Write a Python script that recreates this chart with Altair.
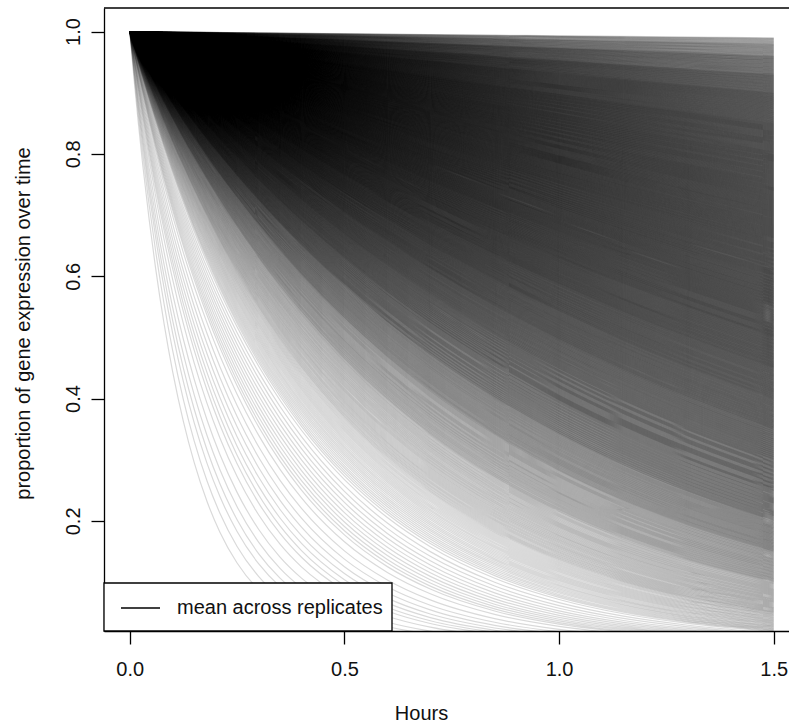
import math
import altair as alt
import pandas as pd

# Proportion of expression remaining at 1.5 h: bin edges (descending) and number of curves per bin
end_edges = [0.99, 0.98, 0.96, 0.93, 0.90, 0.85, 0.80, 0.75, 0.70, 0.65, 0.60, 0.55,
             0.50, 0.45, 0.40, 0.35, 0.30, 0.25, 0.20, 0.15, 0.10, 0.05, 0.02]
end_counts = [15, 39, 77, 92, 169, 180, 184, 184, 183, 180, 177, 172,
              166, 157, 148, 138, 130, 120, 100, 80, 62, 30]
# Fast-decaying curves that leave the frame before 1.5 h: decay-rate bin edges (per hour) and counts
fast_rate_edges = [2.6, 3.5, 5.0, 7.0, 8.5]
fast_counts = [12, 8, 5, 2]
# Time points (hours) at which each curve is evaluated
hours = [0, 0.01, 0.02, 0.03, 0.045, 0.06, 0.08, 0.1, 0.125, 0.15, 0.18, 0.21,
         0.25, 0.3, 0.35, 0.4, 0.5, 0.6, 0.7, 0.85, 1.0, 1.15, 1.3, 1.5]
x_ticks = [0.0, 0.5, 1.0, 1.5]
y_ticks = [0.2, 0.4, 0.6, 0.8, 1.0]
T_END = 1.5

rates = []
for i, n in enumerate(end_counts):
    hi, lo = end_edges[i], end_edges[i + 1]
    for j in range(n):
        v = hi - (j + 0.5) / n * (hi - lo)
        rates.append(-math.log(v) / T_END)
for i, n in enumerate(fast_counts):
    lo, hi = fast_rate_edges[i], fast_rate_edges[i + 1]
    for j in range(n):
        rates.append(lo + (j + 0.5) / n * (hi - lo))

curves = pd.DataFrame({"id": list(range(len(rates))), "k": rates})
t_expr = "[" + ",".join(str(t) for t in hours) + "]"

W, H = 685, 623
FONT = "Liberation Sans"

xscale = alt.Scale(domain=[-0.06, 1.5355], nice=False, zero=False)
yscale = alt.Scale(domain=[0.02, 1.0385], nice=False, zero=False)

lines = (
    alt.Chart(curves)
    .transform_calculate(t=t_expr)
    .transform_flatten(["t"])
    .transform_calculate(p="exp(-datum.k * datum.t)")
    .mark_line(color="black", strokeWidth=1.2, opacity=0.15, clip=True,
               interpolate="monotone")
    .encode(
        x=alt.X("t:Q", scale=xscale,
                axis=alt.Axis(values=x_ticks, format=".1f", title="Hours",
                              tickSize=13, labelPadding=15, labelFlush=False,
                              titleX=317, titleY=82, titleBaseline="middle",
                              titleAlign="center")),
        y=alt.Y("p:Q", scale=yscale,
                axis=alt.Axis(values=y_ticks, format=".1f",
                              title="proportion of gene expression over time",
                              tickSize=13, labelPadding=12, labelAngle=270,
                              labelAlign="center", labelBaseline="alphabetic",
                              titleX=-81, titleY=315, titleAngle=270,
                              titleAlign="center", titleBaseline="middle")),
        detail="id:N",
    )
)

top_rule = alt.Chart(pd.DataFrame({"a": [0]})).mark_rule(
    color="black", strokeWidth=1.3
).encode(x=alt.value(0), x2=alt.value(W), y=alt.value(0))

legend_df = pd.DataFrame({"label": ["mean across replicates"]})
legend_box = alt.Chart(legend_df).mark_rect(
    fill="white", stroke="black", strokeWidth=1.3
).encode(x=alt.value(0), x2=alt.value(288), y=alt.value(575), y2=alt.value(H))
legend_line = alt.Chart(legend_df).mark_rule(
    color="black", strokeWidth=1.3
).encode(x=alt.value(17), x2=alt.value(56), y=alt.value(600))
legend_text = alt.Chart(legend_df).mark_text(
    align="left", baseline="middle", font=FONT, fontSize=20, color="#111"
).encode(x=alt.value(73), y=alt.value(600), text="label:N")

chart = (
    alt.layer(lines, top_rule, legend_box, legend_line, legend_text)
    .properties(width=W, height=H,
                autosize=alt.AutoSizeParams(type="none"),
                padding={"left": 104, "top": 8, "right": 0, "bottom": 95},
                background="white")
    .configure_view(stroke=None)
    .configure_axis(
        grid=False, domainColor="black", tickColor="black", domainWidth=1.3,
        tickWidth=1.3, labelFont=FONT, labelFontSize=20, labelColor="#111",
        titleFont=FONT, titleFontSize=20, titleColor="#111",
        titleFontWeight="normal",
    )
)

chart.save("out.html", embed_options={"renderer": "svg", "actions": False})
